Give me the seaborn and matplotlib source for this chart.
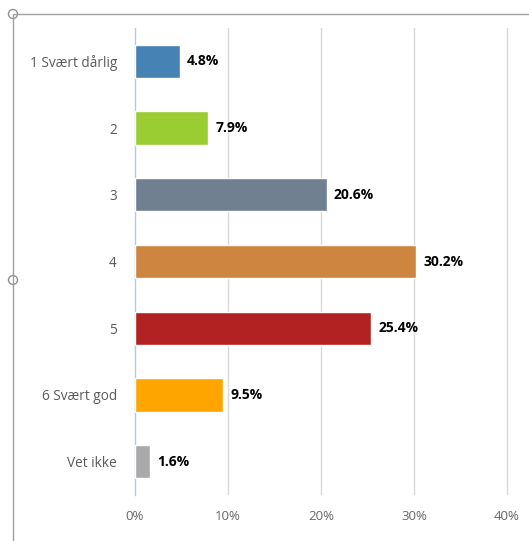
import matplotlib
matplotlib.use("Agg")
import matplotlib.pyplot as plt
import seaborn as sns
import pandas as pd
import numpy as np
from matplotlib.lines import Line2D
from matplotlib.patches import Ellipse

categories = ["1 Svært dårlig", "2", "3", "4", "5", "6 Svært god", "Vet ikke"]
values = [4.8, 7.9, 20.6, 30.2, 25.4, 9.5, 1.6]
colors = ["#4682B4", "#9ACD32", "#708090", "#CD853F", "#B22222", "#FFA500", "#A9A9A9"]
xticks = [0, 10, 20, 30, 40]
xtick_labels = ["0%", "10%", "20%", "30%", "40%"]

sns.set_theme(style="white")
plt.rcParams['font.family'] = ['Open Sans', 'DejaVu Sans']

W, H = 529, 541
fig = plt.figure(figsize=(W / 100, H / 100), dpi=100)
left_px, right_px, top_px, bot_px = 135, 509, 28, 495
ax = fig.add_axes([left_px / W, 1 - bot_px / H, (right_px - left_px) / W, (bot_px - top_px) / H])

df = pd.DataFrame({"cat": categories, "val": values})
sns.barplot(data=df, x="val", y="cat", hue="cat", palette=colors, orient="h",
            width=0.5, legend=False, ax=ax, saturation=1, zorder=3)

ax.set_xlim(0, 40 * (right_px - left_px) / (507 - left_px))
ax.set_ylim(len(categories) - 0.5, -0.5)
ax.set_xticks(xticks)
ax.set_xticklabels(xtick_labels, color="#666666", fontsize=9.5)
ax.set_xlabel("")
ax.set_ylabel("")
ax.tick_params(axis="y", which="major", length=0, pad=13, labelsize=9.8, labelcolor="#595959")
ax.tick_params(axis="x", length=0, pad=11)
ax.set_yticks(np.arange(-0.5, len(categories), 1), minor=True)
ax.tick_params(axis="y", which="minor", length=12, color="#b8c8dc", width=1)

for x in xticks[1:]:
    ax.axvline(x, color="#d9d9d9", lw=1, zorder=0)

for s in ["top", "right", "bottom"]:
    ax.spines[s].set_visible(False)
ax.spines["left"].set_color("#b8c8dc")
ax.spines["left"].set_linewidth(1)

for i, v in enumerate(values):
    ax.text(v + 0.8, i, f"{v}%", va="center", ha="left", fontsize=10,
            fontweight="bold", color="black")

# frame lines and handles from screenshot
fig.add_artist(Line2D([14 / W, 1], [1 - 14 / H, 1 - 14 / H], color="#a0a0a0", lw=1, transform=fig.transFigure))
fig.add_artist(Line2D([13 / W, 13 / W], [0, 1 - 14 / H], color="#a0a0a0", lw=1, transform=fig.transFigure))
for cy in [14, 280]:
    fig.add_artist(Ellipse((13 / W, 1 - cy / H), 9 / W, 9 / H, facecolor="white",
                           edgecolor="#909090", lw=1, transform=fig.transFigure))

fig.savefig("out.png", dpi=100)
